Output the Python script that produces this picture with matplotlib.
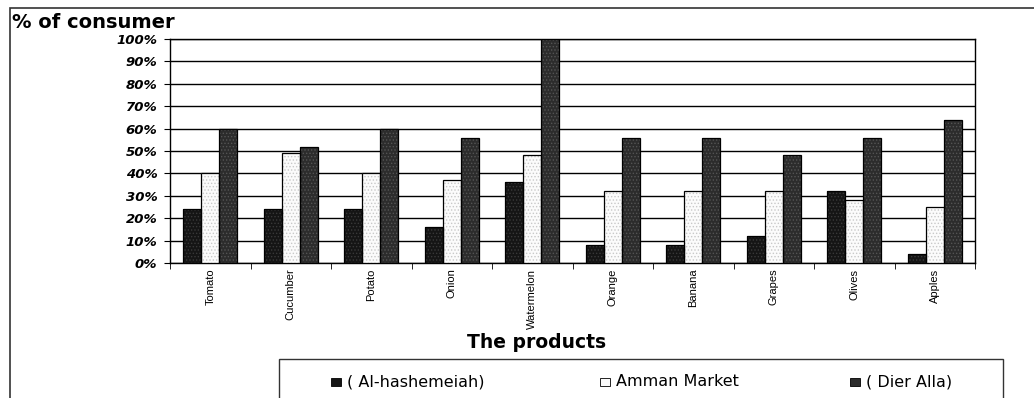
import matplotlib
matplotlib.use("Agg")
import matplotlib.pyplot as plt
from matplotlib.patches import Rectangle
import numpy as np

plt.rcParams['font.family'] = ['Liberation Sans', 'DejaVu Sans']
plt.rcParams['hatch.linewidth'] = 0.6

products = ["Tomato", "Cucumber", "Potato", "Onion", "Watermelon",
            "Orange", "Banana", "Grapes", "Olives", "Apples"]
al_hashemeiah = [24, 24, 24, 16, 36, 8, 8, 12, 32, 4]
amman_market = [40, 49, 40, 37, 48, 32, 32, 32, 28, 25]
dier_alla = [60, 52, 60, 56, 100, 56, 56, 48, 56, 64]
series_names = ["( Al-hashemeiah)", "Amman Market", "( Dier Alla)"]
y_ticks = [0, 10, 20, 30, 40, 50, 60, 70, 80, 90, 100]

W, H = 1034, 398
fig = plt.figure(figsize=(W / 100, H / 100), dpi=100)

# outer chart frame (top and left edges visible)
fig.add_artist(Rectangle((10 / W, -0.5), 1.5, 1 - 8 / H + 0.5,
                         transform=fig.transFigure, fill=False,
                         edgecolor='#333333', linewidth=1.2))

ax = fig.add_axes([170 / W, 1 - 263 / H, 805 / W, 224 / H])

x = np.arange(len(products))
w = 0.224
styles = [
    dict(color='#151515', hatch='.....', hatch_color='#3a3a3a'),
    dict(color='#fbfbfb', hatch='.....', hatch_color='#c8c8c8'),
    dict(color='#2c2c2c', hatch='.....', hatch_color='#555555'),
]
series = [al_hashemeiah, amman_market, dier_alla]
for i, (vals, st) in enumerate(zip(series, styles)):
    pos = x + (i - 1) * w
    ax.bar(pos, vals, width=w, color=st['color'],
           edgecolor=st['hatch_color'], hatch=st['hatch'],
           linewidth=0, zorder=3)
    ax.bar(pos, vals, width=w, fill=False, edgecolor='black',
           linewidth=0.9, zorder=4)

ax.set_xlim(-0.5, len(products) - 0.5)
ax.set_ylim(0, 100)
ax.set_yticks(y_ticks)
ax.set_yticklabels([f"{v}%" for v in y_ticks], fontsize=9.5,
                   fontweight='bold', style='italic', family='DejaVu Sans')
ax.yaxis.grid(True, color='black', linewidth=1.0, zorder=0)
ax.set_axisbelow(True)
ax.tick_params(axis='y', length=4, width=0.8, pad=5)

# category ticks between groups, labels at group centres
ax.set_xticks(np.arange(len(products) + 1) - 0.5)
ax.set_xticklabels([])
ax.tick_params(axis='x', length=4, width=0.6, direction='out')
ax.set_xticks(x, minor=True)
ax.set_xticklabels(products, minor=True, rotation=90, fontsize=8,
                   va='top', ha='center')
ax.tick_params(axis='x', which='minor', length=0, pad=4)

for s in ax.spines.values():
    s.set_color('black')
    s.set_linewidth(1.0)

fig.text(12 / W, 1 - 28 / H, "% of consumer", fontsize=14,
         fontweight='bold', family='DejaVu Sans', ha='left', va='baseline')
fig.text(537 / W, 1 - 342 / H, "The products", fontsize=13.5,
         fontweight='bold', family='DejaVu Sans', ha='center', va='center')

# legend box
fig.add_artist(Rectangle((279 / W, -0.1), (1003 - 279) / W,
                         0.1 + 1 - 359 / H, transform=fig.transFigure,
                         fill=False, edgecolor='#333333', linewidth=1.0))
legend_sq = [331, 600, 850]
for lx, st, name in zip(legend_sq, styles, series_names):
    fig.add_artist(Rectangle((lx / W, 1 - 386 / H), 10 / W, 8 / H,
                             transform=fig.transFigure,
                             facecolor=st['color'], edgecolor='black',
                             linewidth=0.6))
    fig.text((lx + 16) / W, 1 - 382 / H, name, fontsize=11.5,
             family='DejaVu Sans', ha='left', va='center')

fig.savefig("out.png", dpi=100)
